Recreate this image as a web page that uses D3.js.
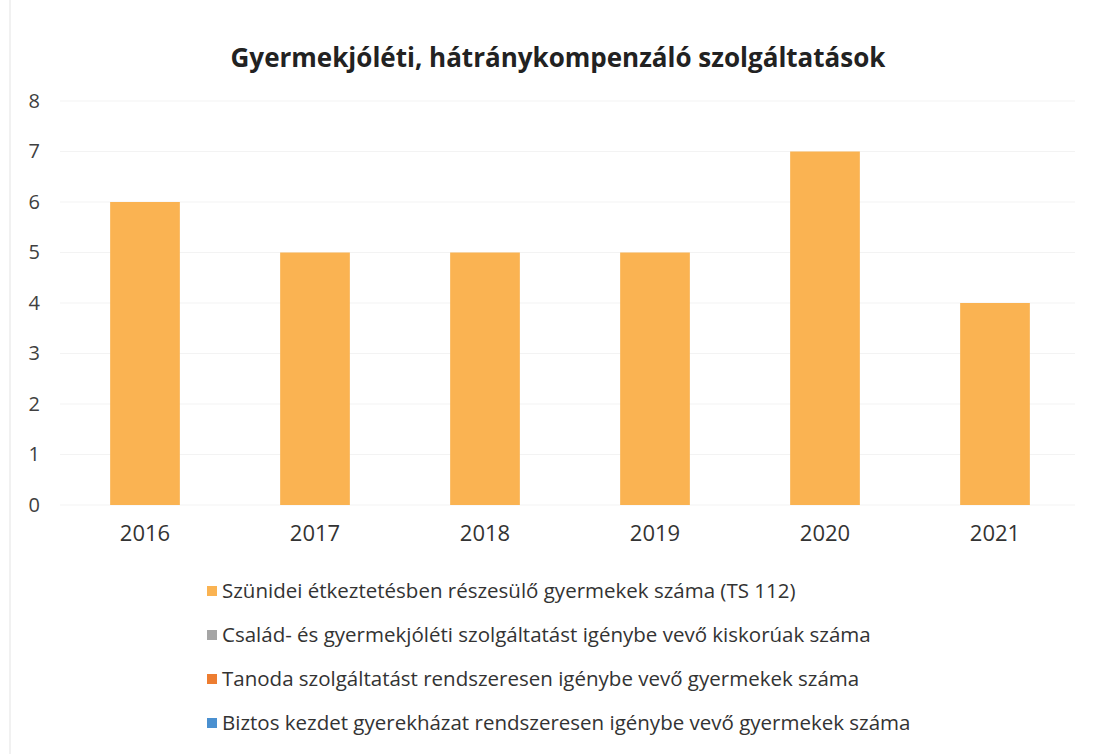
<!DOCTYPE html>
<html>
<head>
<meta charset="utf-8">
<script src="https://d3js.org/d3.v7.min.js"></script>
<style>
  body { margin: 0; background: #fff; }
</style>
</head>
<body>
<script>
// chart size
const width = 1094, height = 754;

// data
const years = ["2016", "2017", "2018", "2019", "2020", "2021"];
const szunidei = [6, 5, 5, 5, 7, 4];
const seriesNames = [
  "Szünidei étkeztetésben részesülő gyermekek száma (TS 112)",
  "Család- és gyermekjóléti szolgáltatást igénybe vevő kiskorúak száma",
  "Tanoda szolgáltatást rendszeresen igénybe vevő gyermekek száma",
  "Biztos kezdet gyerekházat rendszeresen igénybe vevő gyermekek száma"
];
const seriesColors = ["#fab352", "#a5a5a5", "#ed7d31", "#4a90d0"];
const yTicks = [0, 1, 2, 3, 4, 5, 6, 7, 8];

const svg = d3.select("body").append("svg")
  .attr("width", width)
  .attr("height", height)
  .style("font-family", "'Open Sans', sans-serif");

// faint border on the left, like the scanned original
svg.append("line")
  .attr("x1", 10).attr("x2", 10).attr("y1", 0).attr("y2", height)
  .attr("stroke", "#ececec").attr("stroke-width", 1.5);

// title
svg.append("text")
  .attr("x", 558).attr("y", 67)
  .attr("text-anchor", "middle")
  .attr("font-size", 26)
  .attr("font-weight", "bold")
  .attr("fill", "#222")
  .text("Gyermekjóléti, hátránykompenzáló szolgáltatások");

// scales
const x = d3.scaleBand().domain(years).range([60, 1080]).paddingInner(0.59).paddingOuter(0.295);
const y = d3.scaleLinear().domain([0, 8]).range([505, 101]);

// gridlines
svg.append("g")
  .selectAll("line")
  .data(yTicks)
  .join("line")
  .attr("x1", 60).attr("x2", 1075)
  .attr("y1", d => y(d)).attr("y2", d => y(d))
  .attr("stroke", "#f3f3f3").attr("stroke-width", 1);

// y axis labels
const yAxis = svg.append("g")
  .attr("transform", "translate(40,0)")
  .call(d3.axisLeft(y).tickValues(yTicks).tickSize(0).tickPadding(0).tickFormat(d3.format("d")));
yAxis.select(".domain").remove();
yAxis.selectAll("text")
  .attr("font-family", "'Open Sans', sans-serif")
  .attr("font-size", 20)
  .attr("fill", "#404040");

// bars
svg.append("g")
  .selectAll("rect")
  .data(years.map((yr, i) => ({ yr, v: szunidei[i] })))
  .join("rect")
  .attr("x", d => x(d.yr))
  .attr("width", x.bandwidth())
  .attr("y", d => y(d.v))
  .attr("height", d => y(0) - y(d.v))
  .attr("fill", seriesColors[0]);

// x axis labels
const xAxis = svg.append("g")
  .attr("transform", "translate(0,520)")
  .call(d3.axisBottom(x).tickSize(0).tickPadding(0));
xAxis.select(".domain").remove();
xAxis.selectAll("text")
  .attr("dy", "0.95em")
  .attr("font-family", "'Open Sans', sans-serif")
  .attr("font-size", 22)
  .attr("fill", "#333");

// legend
const legend = svg.append("g")
  .selectAll("g")
  .data(seriesNames)
  .join("g")
  .attr("transform", (d, i) => `translate(207,${591 + i * 44})`);

legend.append("rect")
  .attr("x", 0).attr("y", -5)
  .attr("width", 10).attr("height", 10)
  .attr("fill", (d, i) => seriesColors[i]);

legend.append("text")
  .attr("x", 15).attr("y", 0)
  .attr("dy", "0.35em")
  .attr("font-size", 20.5)
  .attr("fill", "#333")
  .text(d => d);
</script>
</body>
</html>
